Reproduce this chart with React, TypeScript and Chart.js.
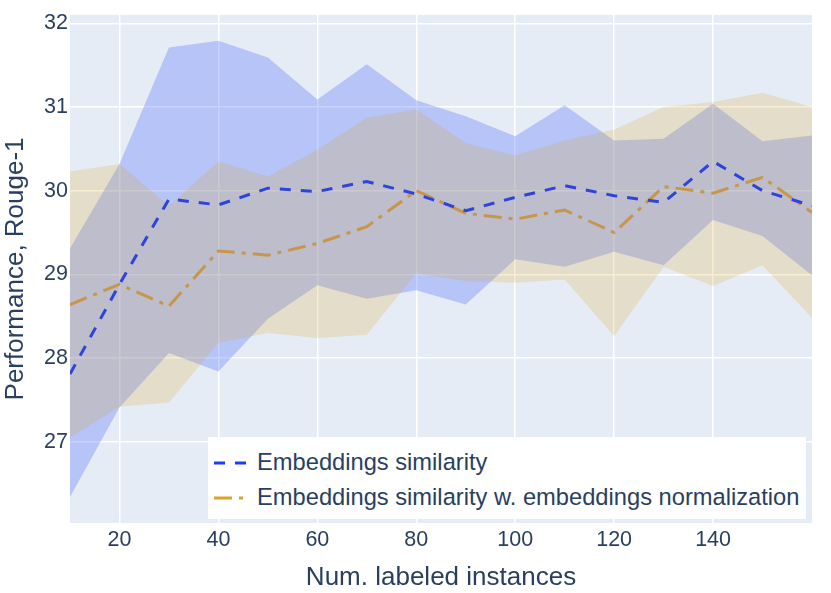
import { Chart, registerables, type Plugin } from 'chart.js'
import { useEffect, useRef } from 'react'

Chart.register(...registerables)

const labeledInstances = [10, 20, 30, 40, 50, 60, 70, 80, 90, 100, 110, 120, 130, 140, 150, 160]

const simMean = [27.81, 28.88, 29.9, 29.83, 30.03, 29.99, 30.11, 29.96, 29.76, 29.92, 30.06, 29.94, 29.86, 30.35, 30.0, 29.82]
const simUpper = [29.31, 30.32, 31.71, 31.79, 31.59, 31.09, 31.51, 31.08, 30.89, 30.65, 31.02, 30.6, 30.62, 31.04, 30.59, 30.66]
const simLower = [26.34, 27.41, 28.06, 27.84, 28.47, 28.87, 28.71, 28.81, 28.64, 29.18, 29.09, 29.27, 29.11, 29.65, 29.46, 28.99]

const normMean = [28.64, 28.88, 28.62, 29.28, 29.23, 29.37, 29.57, 30.0, 29.73, 29.66, 29.77, 29.5, 30.05, 29.97, 30.16, 29.74]
const normUpper = [30.23, 30.32, 29.82, 30.35, 30.17, 30.49, 30.87, 30.97, 30.57, 30.42, 30.6, 30.73, 31.0, 31.06, 31.17, 31.0]
const normLower = [27.05, 27.42, 27.47, 28.18, 28.3, 28.24, 28.28, 29.01, 28.92, 28.9, 28.94, 28.26, 29.09, 28.86, 29.11, 28.48]

const xTicks = [20, 40, 60, 80, 100, 120, 140]
const yTicks = [27, 28, 29, 30, 31, 32]

const TEXT = '#2a3f5f'
const FONT = '"Liberation Sans", Arial, sans-serif'

const points = (ys: number[]) => ys.map((y, i) => ({ x: labeledInstances[i], y }))

const plotBackground: Plugin<'line'> = {
  id: 'plotBackground',
  beforeDraw(chart) {
    const { ctx, chartArea } = chart
    ctx.save()
    ctx.fillStyle = '#e5ecf6'
    ctx.fillRect(chartArea.left, chartArea.top, chartArea.width, chartArea.height)
    ctx.restore()
  },
}

function band(values: number[], fill: string | false, color: string) {
  return {
    data: points(values),
    borderColor: 'transparent',
    borderWidth: 0,
    backgroundColor: color,
    pointRadius: 0,
    pointHoverRadius: 0,
    fill,
    tension: 0,
  }
}

export default function App() {
  const canvasRef = useRef<HTMLCanvasElement | null>(null)

  useEffect(() => {
    const canvas = canvasRef.current
    if (!canvas) {
      return
    }

    const chart = new Chart(canvas, {
      type: 'line',
      data: {
        datasets: [
          {
            label: 'Embeddings similarity',
            data: points(simMean),
            borderColor: '#2c44dc',
            borderWidth: 3,
            borderDash: [11, 10],
            pointRadius: 0,
            fill: false,
            tension: 0,
          },
          {
            label: 'Embeddings similarity w. embeddings normalization',
            data: points(normMean),
            borderColor: '#c8964a',
            borderWidth: 3,
            borderDash: [18, 7, 4, 7],
            pointRadius: 0,
            fill: false,
            tension: 0,
          },
          // gold band sits above the blue one, so it comes first (drawn later)
          band(normUpper, '+1', 'rgba(218, 165, 32, 0.2)'),
          band(normLower, false, 'transparent'),
          band(simUpper, '+1', 'rgba(72, 103, 249, 0.3)'),
          band(simLower, false, 'transparent'),
        ],
      },
      plugins: [plotBackground],
      options: {
        animation: false,
        responsive: true,
        maintainAspectRatio: false,
        layout: {
          padding: { top: 11, right: 19, left: 0, bottom: 0 },
        },
        plugins: {
          legend: { display: false },
          tooltip: { enabled: false },
        },
        scales: {
          x: {
            type: 'linear',
            min: 10,
            max: 160,
            afterBuildTicks: (scale) => {
              scale.ticks = xTicks.map((value) => ({ value }))
            },
            afterFit: (scale) => {
              scale.height = 70
            },
            ticks: {
              color: TEXT,
              padding: 4,
              maxRotation: 0,
              font: { family: FONT, size: 21.5 },
            },
            grid: {
              color: '#ffffff',
              lineWidth: 1.5,
              drawTicks: false,
            },
            border: { display: false },
            title: {
              display: true,
              text: 'Num. labeled instances',
              color: TEXT,
              padding: 0,
              font: { family: FONT, size: 26 },
            },
          },
          y: {
            min: 26.03,
            max: 32.1,
            afterBuildTicks: (scale) => {
              scale.ticks = yTicks.map((value) => ({ value }))
            },
            afterFit: (scale) => {
              scale.width = 70
            },
            ticks: {
              color: TEXT,
              padding: 2,
              font: { family: FONT, size: 21.5 },
            },
            grid: {
              color: '#ffffff',
              lineWidth: 1.5,
              drawTicks: false,
            },
            border: { display: false },
            title: {
              display: true,
              text: 'Performance, Rouge-1',
              color: TEXT,
              padding: 0,
              font: { family: FONT, size: 26 },
            },
          },
        },
      },
    })

    return () => {
      chart.destroy()
    }
  }, [])

  const legendRow = { display: 'flex', alignItems: 'center', height: 35 } as const
  const legendText = { marginLeft: 10, fontSize: 23.7, color: TEXT, whiteSpace: 'nowrap' } as const

  return (
    <div style={{ position: 'absolute', left: 0, top: 0, width: 831, height: 593, background: '#ffffff', fontFamily: FONT }}>
      <canvas ref={canvasRef} />
      <div
        style={{
          position: 'absolute',
          left: 208,
          top: 437,
          width: 598,
          height: 82,
          background: '#ffffff',
          boxSizing: 'border-box',
          padding: '8px 0 0 6px',
        }}
      >
        <div style={legendRow}>
          <svg width={33} height={6}>
            <line x1={0} y1={3} x2={33} y2={3} stroke="#1a3cff" strokeWidth={3} strokeDasharray="11 10" />
          </svg>
          <span style={legendText}>Embeddings similarity</span>
        </div>
        <div style={legendRow}>
          <svg width={33} height={6}>
            <line x1={0} y1={3} x2={33} y2={3} stroke="#dba428" strokeWidth={3} strokeDasharray="18 7 4 7" />
          </svg>
          <span style={legendText}>Embeddings similarity w. embeddings normalization</span>
        </div>
      </div>
    </div>
  )
}
